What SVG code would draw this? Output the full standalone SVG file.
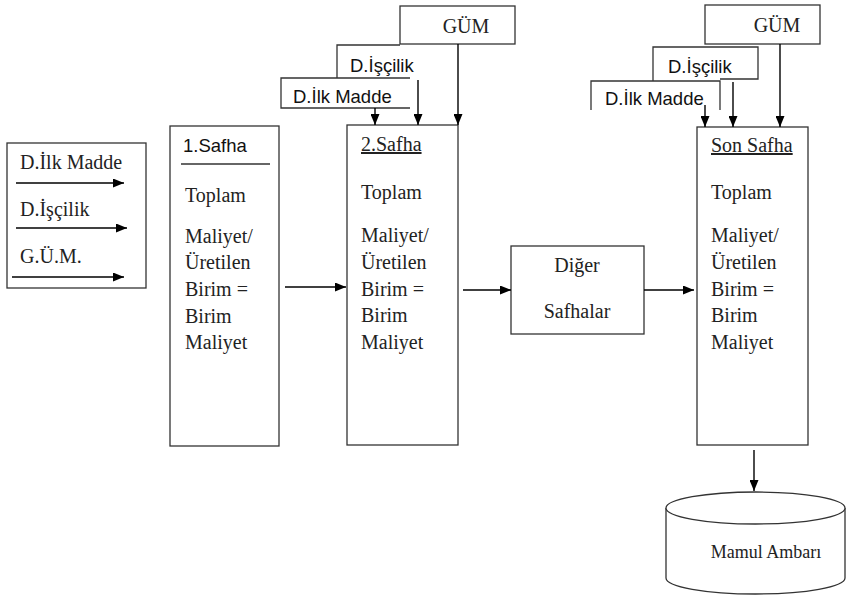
<svg xmlns="http://www.w3.org/2000/svg" width="857" height="598" viewBox="0 0 857 598">
<defs>
<marker id="ah" markerUnits="userSpaceOnUse" markerWidth="11" markerHeight="9" refX="11" refY="4.5" orient="auto">
<path d="M0,0 L11,4.5 L0,9 z" fill="#000"/>
</marker>
<style>
.box{fill:#fff;stroke:#333;stroke-width:1.3}
.ln{fill:none;stroke:#333;stroke-width:1.3}
.ar{fill:none;stroke:#000;stroke-width:1.4;marker-end:url(#ah)}
.t{font-family:"Liberation Serif","Times New Roman",serif;font-size:20px;fill:#222}
.s{font-family:"Liberation Sans",Arial,sans-serif;font-size:18.5px;fill:#111}
.u{text-decoration:underline}
</style>
</defs>
<rect width="857" height="598" fill="#fff"/>

<g id="inputs">
<rect class="box" x="7" y="143" width="139" height="145"/>
<text class="t" x="20" y="169">D.İlk Madde</text>
<text class="t" x="20" y="216">D.İşçilik</text>
<text class="t" x="20" y="263">G.Ü.M.</text>
</g>

<g id="safha1">
<rect class="box" x="170" y="126" width="109" height="320"/>
<text class="s" x="183" y="152">1.Safha</text>
<line class="ln" x1="181" y1="164" x2="270" y2="164"/>
<text class="t" x="185" y="202">Toplam</text>
<text class="t" x="185" y="243">Maliyet/</text>
<text class="t" x="185" y="269">Üretilen</text>
<text class="t" x="185" y="296">Birim =</text>
<text class="t" x="185" y="323">Birim</text>
<text class="t" x="185" y="349">Maliyet</text>
</g>

<g id="gum1">
<rect class="box" x="400" y="6" width="115" height="38"/>
<text class="t" x="466" y="33" text-anchor="middle">GÜM</text>
</g>
<g id="iscilik1">
<path class="ln" d="M337,78 V45 H400"/>
<text class="s" x="350" y="72">D.İşçilik</text>
</g>
<g id="ilkmadde1">
<path class="ln" d="M410,78 H281 V108 H410" style="fill:#fff"/>
<text class="s" x="293" y="103">D.İlk Madde</text>
</g>

<g id="safha2">
<rect class="box" x="347" y="125" width="111" height="320"/>
<text class="t u" x="361" y="151">2.Safha</text>
<text class="t" x="361" y="199">Toplam</text>
<text class="t" x="361" y="242">Maliyet/</text>
<text class="t" x="361" y="269">Üretilen</text>
<text class="t" x="361" y="296">Birim =</text>
<text class="t" x="361" y="322">Birim</text>
<text class="t" x="361" y="349">Maliyet</text>
</g>

<g id="diger">
<rect class="box" x="511" y="246" width="133" height="88"/>
<text class="t" x="577" y="272" text-anchor="middle">Diğer</text>
<text class="t" x="577" y="318" text-anchor="middle">Safhalar</text>
</g>

<g id="gum2">
<rect class="box" x="705" y="5" width="115" height="39"/>
<text class="t" x="777" y="32" text-anchor="middle">GÜM</text>
</g>
<g id="iscilik2">
<path class="ln" d="M653,81 V47 H758 V79 H720"/>
<text class="s" x="668" y="73">D.İşçilik</text>
</g>
<g id="ilkmadde2">
<path class="ln" d="M591,110 V81 H720 V110"/>
<text class="s" x="605" y="105">D.İlk Madde</text>
</g>

<g id="sonsafha">
<rect class="box" x="697" y="127" width="111" height="318"/>
<text class="t u" x="711" y="152">Son Safha</text>
<text class="t" x="711" y="199">Toplam</text>
<text class="t" x="711" y="242">Maliyet/</text>
<text class="t" x="711" y="269">Üretilen</text>
<text class="t" x="711" y="296">Birim =</text>
<text class="t" x="711" y="322">Birim</text>
<text class="t" x="711" y="349">Maliyet</text>
</g>

<g id="ambar">
<path class="box" d="M666,508 V578 A89.5,16 0 0 0 845,578 V508"/>
<ellipse class="box" cx="755.5" cy="508" rx="89.5" ry="16"/>
<text class="t" x="766" y="558" text-anchor="middle" style="font-size:18px">Mamul Ambarı</text>
</g>

<g id="connectors">
<line class="ar" x1="16" y1="183" x2="124" y2="183"/>
<line class="ar" x1="16" y1="228" x2="127" y2="228"/>
<line class="ar" x1="12" y1="277" x2="124" y2="277"/>
<line class="ar" x1="285" y1="287" x2="346" y2="287"/>
<line class="ar" x1="375" y1="108" x2="375" y2="125"/>
<line class="ar" x1="418" y1="80" x2="418" y2="125"/>
<line class="ar" x1="458" y1="44" x2="458" y2="125"/>
<line class="ar" x1="463" y1="290" x2="511" y2="290"/>
<line class="ar" x1="644" y1="290" x2="694" y2="290"/>
<line class="ar" x1="705" y1="105" x2="705" y2="127"/>
<line class="ar" x1="733" y1="82" x2="733" y2="127"/>
<line class="ar" x1="780" y1="44" x2="780" y2="127"/>
<line class="ar" x1="754" y1="450" x2="754" y2="491"/>
</g>
</svg>
